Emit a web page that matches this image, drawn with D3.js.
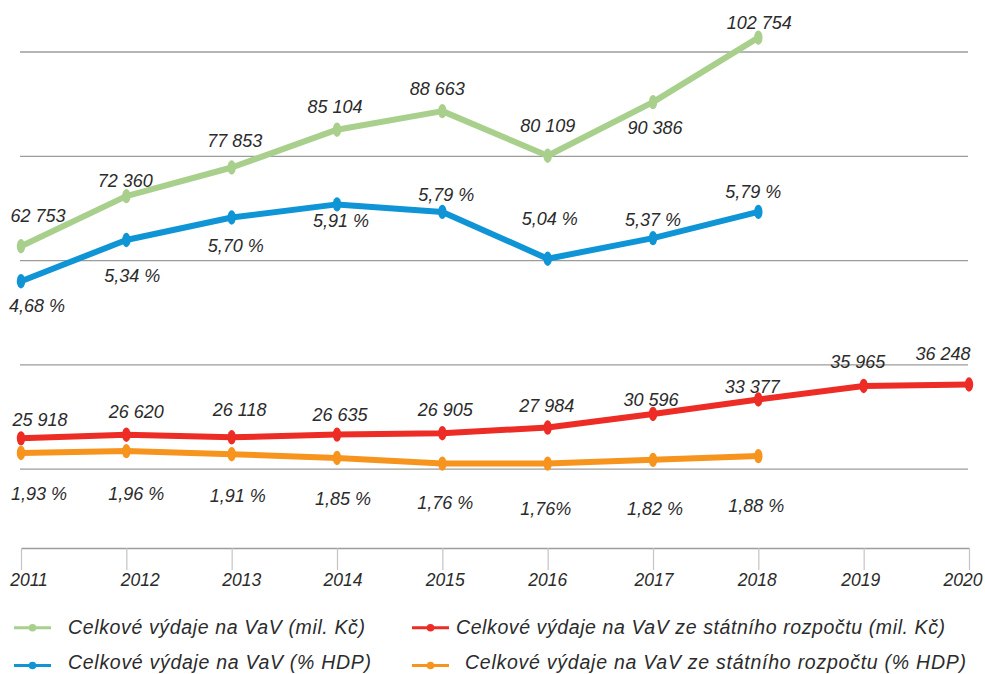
<!DOCTYPE html>
<html><head><meta charset="utf-8">
<script src="https://cdn.jsdelivr.net/npm/d3@7"></script>
<style>
html,body{margin:0;padding:0;background:#fff;}
svg{display:block;}
text{font-family:"Liberation Sans", Arial, Helvetica, sans-serif; font-style:italic; fill:#2b2b2b;}
</style></head><body>
<svg id="chart" width="985" height="674"></svg>
<script>
// ---------- DATA ----------
const years = [2011, 2012, 2013, 2014, 2015, 2016, 2017, 2018, 2019, 2020];
const yearLabels = ["2011", "2012", "2013", "2014", "2015", "2016", "2017", "2018", "2019", "2020"];

const totalMil = [62753, 72360, 77853, 85104, 88663, 80109, 90386, 102754];
const totalPct = [4.68, 5.34, 5.70, 5.91, 5.79, 5.04, 5.37, 5.79];
const stateMil = [25918, 26620, 26118, 26635, 26905, 27984, 30596, 33377, 35965, 36248];
const statePct = [1.93, 1.96, 1.91, 1.85, 1.76, 1.76, 1.82, 1.88];

const totalMilLabels = ["62 753", "72 360", "77 853", "85 104", "88 663", "80 109", "90 386", "102 754"];
const totalPctLabels = ["4,68 %", "5,34 %", "5,70 %", "5,91 %", "5,79 %", "5,04 %", "5,37 %", "5,79 %"];
const stateMilLabels = ["25 918", "26 620", "26 118", "26 635", "26 905", "27 984", "30 596", "33 377", "35 965", "36 248"];
const statePctLabels = ["1,93 %", "1,96 %", "1,91 %", "1,85 %", "1,76 %", "1,76%", "1,82 %", "1,88 %"];

const seriesNames = [
  "Celkové výdaje na VaV (mil. Kč)",
  "Celkové výdaje na VaV (% HDP)",
  "Celkové výdaje na VaV ze státního rozpočtu (mil. Kč)",
  "Celkové výdaje na VaV ze státního rozpočtu (% HDP)"
];
const gridValues = [100000, 80000, 60000, 40000, 20000];

// ---------- LAYOUT (label nudges, px) ----------
const totalMilNudge = [[17,-31],[-1,-16],[3,-27],[-2,-23],[-5,-23],[0,-30],[2,25],[1,-15]];
const totalPctNudge = [[16,24],[6,36],[4,28],[4,16],[4,-17],[2,-40],[0,-19],[-5,-20]];
const stateMilNudge = [[19,-19],[10,-23],[8,-28],[3,-20],[3,-24],[-1,-22],[-2,-14],[-6,-13],[-6,-24],[-26,-31]];
const statePctNudge = [[18,41],[10,42],[6,41],[6,41],[3,39],[-2,45],[2,49],[-2,49]];
const yearNudge = [8, 14, 10, 6, 3, 0, 1, -1, -3, -6];

const colors = { green: "#a8d08c", blue: "#0f95d6", red: "#ec2c25", orange: "#f7941e" };

// ---------- SCALES ----------
const svg = d3.select("#chart");
const x = d3.scaleLinear().domain([2011, 2020]).range([21, 969]);
const yMil = d3.scaleLinear().domain([0, 100000]).range([573.5, 52]);
const yPct = d3.scaleLinear().domain([0, 8.35]).range([573.5, 52]);

// gridlines
svg.append("g").selectAll("line").data(gridValues).join("line")
  .attr("x1", 20).attr("x2", 968)
  .attr("y1", d => yMil(d)).attr("y2", d => yMil(d))
  .attr("stroke", "#9c9c9c").attr("stroke-width", 1.3);

// x axis
const axisG = svg.append("g").attr("transform", "translate(0,548)")
  .call(d3.axisBottom(x).tickValues(years).tickSize(22).tickSizeOuter(0).tickFormat(""));
axisG.select(".domain").attr("stroke", "#9c9c9c").attr("stroke-width", 1.3);
axisG.selectAll(".tick line").attr("stroke", "#c4c4c4").attr("stroke-width", 1.2);

svg.append("g").selectAll("text").data(years).join("text")
  .attr("x", (d, i) => x(d) + yearNudge[i])
  .attr("y", 586)
  .attr("text-anchor", "middle")
  .attr("font-size", 17.5)
  .text((d, i) => yearLabels[i]);

// series
const series = [
  { values: totalMil, scale: yMil, color: colors.green, labels: totalMilLabels, nudge: totalMilNudge },
  { values: totalPct, scale: yPct, color: colors.blue, labels: totalPctLabels, nudge: totalPctNudge },
  { values: stateMil, scale: yMil, color: colors.red, labels: stateMilLabels, nudge: stateMilNudge },
  { values: statePct, scale: yPct, color: colors.orange, labels: statePctLabels, nudge: statePctNudge }
];

series.forEach(s => {
  const pts = s.values.map((v, i) => ({ yr: years[i], v }));
  const line = d3.line().x(d => x(d.yr)).y(d => s.scale(d.v));
  const g = svg.append("g");
  g.append("path").datum(pts).attr("d", line)
    .attr("fill", "none").attr("stroke", s.color).attr("stroke-width", 6)
    .attr("stroke-linejoin", "round").attr("stroke-linecap", "round");
  g.selectAll("ellipse").data(pts).join("ellipse")
    .attr("cx", d => x(d.yr)).attr("cy", d => s.scale(d.v))
    .attr("rx", 4.2).attr("ry", 7.2).attr("fill", s.color);
});

series.forEach(s => {
  svg.append("g").selectAll("text").data(s.values).join("text")
    .attr("x", (d, i) => x(years[i]) + s.nudge[i][0])
    .attr("y", (d, i) => s.scale(d) + s.nudge[i][1] + 6.5)
    .attr("text-anchor", "middle")
    .attr("font-size", 18)
    .text((d, i) => s.labels[i]);
});

// legend
const legendItems = [
  { name: seriesNames[0], color: colors.green, lx: 14, ly: 627.7, tx: 68, ty: 634, w: 297 },
  { name: seriesNames[2], color: colors.red, lx: 412, ly: 627.7, tx: 456, ty: 634, w: 489 },
  { name: seriesNames[1], color: colors.blue, lx: 14, ly: 665.5, tx: 68, ty: 668.5, w: 303 },
  { name: seriesNames[3], color: colors.orange, lx: 412, ly: 665.5, tx: 465, ty: 668.5, w: 501 }
];
const lg = svg.append("g").selectAll("g").data(legendItems).join("g");
lg.append("line")
  .attr("x1", d => d.lx).attr("x2", d => d.lx + 37)
  .attr("y1", d => d.ly).attr("y2", d => d.ly)
  .attr("stroke", d => d.color).attr("stroke-width", 3);
lg.append("circle")
  .attr("cx", d => d.lx + 18.5).attr("cy", d => d.ly).attr("r", 3.8)
  .attr("fill", d => d.color);
lg.append("text")
  .attr("x", d => d.tx).attr("y", d => d.ty)
  .attr("font-size", 19.5)
  .attr("textLength", d => d.w).attr("lengthAdjust", "spacing")
  .text(d => d.name);
</script>
</body></html>
